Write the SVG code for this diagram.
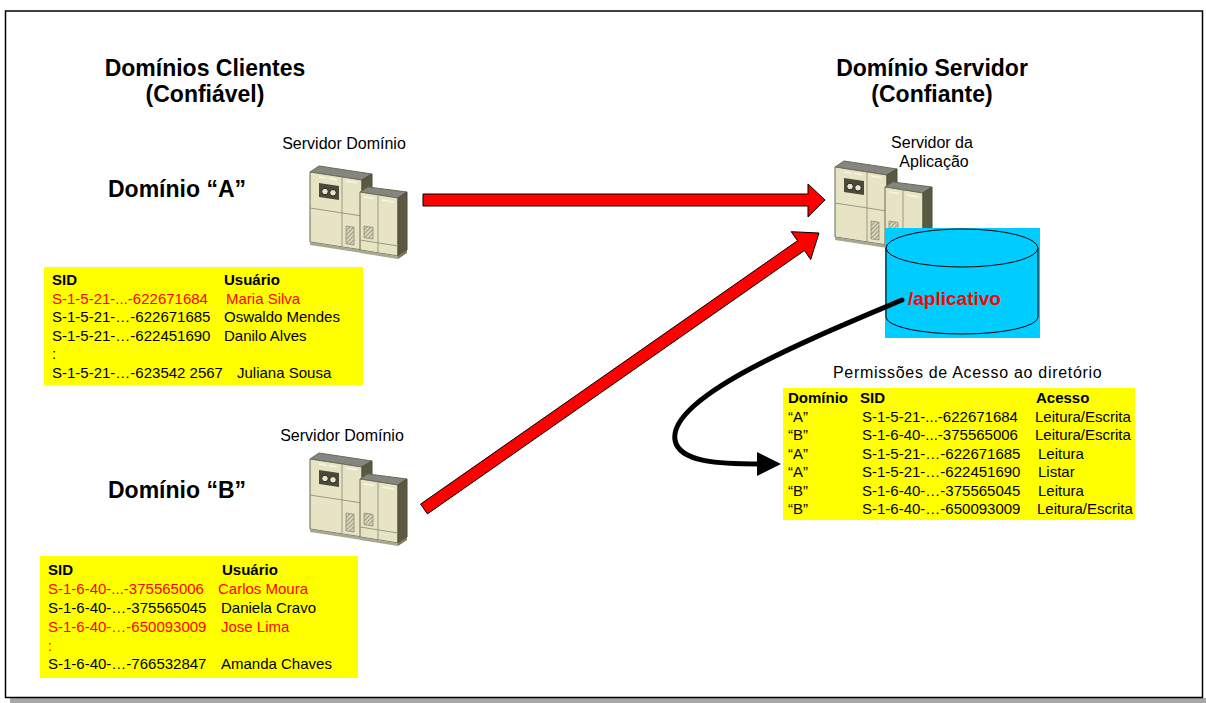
<svg xmlns="http://www.w3.org/2000/svg" xmlns:xlink="http://www.w3.org/1999/xlink" width="1206" height="703" viewBox="0 0 1206 703">
  <style>
    text { font-family: "Liberation Sans", Arial, sans-serif; fill: #000; }
    .h { font-size: 23px; font-weight: bold; }
    .lbl { font-size: 16px; }
    .tb { font-size: 15px; }
    .b { font-weight: bold; }
    .red { fill: #ff0000; }
    .ylw { fill: #ffff00; }
    .red-arrow { fill: #ff0000; stroke: #000; stroke-width: 1; stroke-linejoin: miter; }
    .front { fill: #e7e4c6; stroke: #6b6a52; stroke-width: 1; }
    .top { fill: #858582; stroke: #6b6a52; stroke-width: 1; }
    .side { fill: #5a5941; stroke: #4d4c38; stroke-width: 1; }
    .seam { stroke: #9a9880; stroke-width: 1; fill: none; }
    .hl { stroke: #f7f5e6; stroke-width: 1.5; fill: none; }
  </style>
  <defs>
    <pattern id="vent" width="3" height="3" patternUnits="userSpaceOnUse" patternTransform="rotate(45)">
      <rect width="3" height="3" fill="#d8d5bb"/>
      <line x1="0" y1="0" x2="0" y2="3" stroke="#77765e" stroke-width="1.2"/>
    </pattern>
    <!-- two-cabinet server icon -->
    <symbol id="server" viewBox="0 0 104 96" width="104" height="96" overflow="visible">
      <!-- tall cabinet -->
      <polygon class="top" points="4,8 13,2 66,10 56,16"/>
      <polygon class="front" points="4,8 56,16 56,86 4,78"/>
      <polygon class="side" points="56,16 66,10 66,80 56,86"/>
      <polygon fill="#a9a792" points="4,78 56,86 56,89 4,81"/>
      <polygon fill="#7a7962" points="56,86 66,80 66,83 56,89"/>
      <line class="seam" x1="36" y1="13" x2="36" y2="83"/>
      <line class="seam" x1="4" y1="44" x2="56" y2="52"/>
      <line class="hl" x1="13" y1="13" x2="20" y2="14"/>
      <line class="hl" x1="23" y1="14.5" x2="31" y2="15.7"/>
      <line class="hl" x1="40" y1="17" x2="51" y2="18.7"/>
      <polygon fill="#4a493a" points="13,19 33,22 33,36 13,33"/>
      <circle cx="19" cy="27.5" r="3.3" fill="#e9e6ca" stroke="#222" stroke-width="1"/>
      <circle cx="27" cy="28.8" r="3.3" fill="#e9e6ca" stroke="#222" stroke-width="1"/>
      <polygon fill="url(#vent)" stroke="#77765e" stroke-width="0.6" points="40,62 48,63.2 48,81 40,79.8"/>
      <!-- short cabinet -->
      <polygon class="top" points="54,28 62,23 101,28 92,34"/>
      <polygon class="front" points="54,28 92,34 92,92 54,86"/>
      <polygon class="side" points="92,34 101,28 101,86 92,92"/>
      <polygon fill="#a9a792" points="54,86 92,92 92,95 54,89"/>
      <polygon fill="#7a7962" points="92,92 101,86 101,89 92,95"/>
      <line class="seam" x1="72" y1="31" x2="72" y2="89"/>
      <line class="seam" x1="54" y1="76" x2="92" y2="82"/>
      <line class="hl" x1="58" y1="33" x2="68" y2="34.5"/>
      <line class="hl" x1="76" y1="36" x2="88" y2="38"/>
      <polygon fill="url(#vent)" stroke="#77765e" stroke-width="0.6" points="58,62 67,63.4 67,75 58,73.6"/>
    </symbol>
  </defs>

  <!-- page frame with drop shadow along the bottom -->
  <rect x="10" y="698" width="1196" height="5" fill="#a8a8a8"/>
  <rect x="5.5" y="11" width="1197" height="686.5" fill="#fff" stroke="#000" stroke-width="1.5"/>

  <!-- headings -->
  <g id="titles">
    <text class="h" x="205" y="76" text-anchor="middle">Domínios Clientes</text>
    <text class="h" x="205" y="102" text-anchor="middle">(Confiável)</text>
    <text class="h" x="932" y="76" text-anchor="middle">Domínio Servidor</text>
    <text class="h" x="932" y="102" text-anchor="middle">(Confiante)</text>
    <text class="h" x="108" y="197">Domínio “A”</text>
    <text class="h" x="108" y="498">Domínio “B”</text>
  </g>

  <!-- domain A server -->
  <g id="server-a">
    <text class="lbl" x="344" y="149" text-anchor="middle">Servidor Domínio</text>
    <use xlink:href="#server" href="#server" x="306" y="164"/>
  </g>

  <!-- domain B server -->
  <g id="server-b">
    <text class="lbl" x="342" y="441" text-anchor="middle">Servidor Domínio</text>
    <use xlink:href="#server" href="#server" x="306" y="451"/>
  </g>

  <!-- application server -->
  <g id="server-app">
    <text class="lbl" x="932" y="148" text-anchor="middle">Servidor da</text>
    <text class="lbl" x="934" y="167" text-anchor="middle">Aplicação</text>
    <use xlink:href="#server" href="#server" x="831" y="159"/>
  </g>

  <!-- shared directory -->
  <g id="directory">
    <rect x="885" y="228" width="155" height="110" fill="#00ccff"/>
    <path d="M886 248 L886 317 A76 17 0 0 0 1038 317 L1038 248" fill="#00ccff" stroke="#000" stroke-width="1"/>
    <ellipse cx="962" cy="248" rx="76" ry="19" fill="#00ccff" stroke="#000" stroke-width="1"/>
    <text x="908" y="305" font-size="19" font-weight="bold" class="red">/aplicativo</text>
  </g>

  <!-- domain A user table -->
  <g id="table-a" class="tb">
    <rect class="ylw" x="44" y="267" width="319" height="118"/>
    <text class="tb b" x="52" y="285">SID</text>
    <text class="tb b" x="224" y="285">Usuário</text>
    <text class="tb red" x="52" y="303.5">S-1-5-21-...-622671684</text>
    <text class="tb red" x="226" y="303.5">Maria Silva</text>
    <text class="tb" x="52" y="322">S-1-5-21-…-622671685</text>
    <text class="tb" x="224" y="322">Oswaldo Mendes</text>
    <text class="tb" x="52" y="340.5">S-1-5-21-…-622451690</text>
    <text class="tb" x="224" y="340.5">Danilo Alves</text>
    <text class="tb" x="52" y="359">:</text>
    <text class="tb" x="52" y="377.5">S-1-5-21-…-623542 2567</text>
    <text class="tb" x="237" y="377.5">Juliana Sousa</text>
  </g>

  <!-- domain B user table -->
  <g id="table-b" class="tb">
    <rect class="ylw" x="40" y="556" width="318" height="122"/>
    <text class="tb b" x="48" y="575">SID</text>
    <text class="tb b" x="222" y="575">Usuário</text>
    <text class="tb red" x="48" y="594">S-1-6-40-...-375565006</text>
    <text class="tb red" x="218" y="594">Carlos Moura</text>
    <text class="tb" x="48" y="613">S-1-6-40-…-375565045</text>
    <text class="tb" x="221" y="613">Daniela Cravo</text>
    <text class="tb red" x="48" y="632">S-1-6-40-…-650093009</text>
    <text class="tb red" x="221" y="632">Jose Lima</text>
    <text class="tb red" x="48" y="650.5">:</text>
    <text class="tb" x="48" y="669">S-1-6-40-…-766532847</text>
    <text class="tb" x="221" y="669">Amanda Chaves</text>
  </g>

  <!-- directory permission table -->
  <g id="permissions" class="tb">
    <text class="lbl" x="833" y="378" letter-spacing="0.7">Permissões de Acesso ao diretório</text>
    <rect class="ylw" x="783" y="388" width="352" height="132"/>
    <text class="tb b" x="788" y="403">Domínio</text>
    <text class="tb b" x="860" y="403">SID</text>
    <text class="tb b" x="1036" y="403">Acesso</text>

    <text class="tb" x="788" y="421.5">“A”</text>
    <text class="tb" x="862" y="421.5">S-1-5-21-...-622671684</text>
    <text class="tb" x="1035" y="421.5">Leitura/Escrita</text>

    <text class="tb" x="788" y="440">“B”</text>
    <text class="tb" x="862" y="440">S-1-6-40-...-375565006</text>
    <text class="tb" x="1035" y="440">Leitura/Escrita</text>

    <text class="tb" x="788" y="458.5">“A”</text>
    <text class="tb" x="862" y="458.5">S-1-5-21-…-622671685</text>
    <text class="tb" x="1038" y="458.5">Leitura</text>

    <text class="tb" x="788" y="477">“A”</text>
    <text class="tb" x="862" y="477">S-1-5-21-…-622451690</text>
    <text class="tb" x="1038" y="477">Listar</text>

    <text class="tb" x="788" y="495.5">“B”</text>
    <text class="tb" x="862" y="495.5">S-1-6-40-…-375565045</text>
    <text class="tb" x="1038" y="495.5">Leitura</text>

    <text class="tb" x="788" y="514">“B”</text>
    <text class="tb" x="862" y="514">S-1-6-40-…-650093009</text>
    <text class="tb" x="1037" y="514">Leitura/Escrita</text>
  </g>

  <!-- connectors -->
  <g id="connectors">
    <polygon class="red-arrow" points="423,194 808,194 808,184 825,200 808,217 808,206 423,206"/>
    <polygon class="red-arrow" points="420.6,504.1 797.5,240.7 791.2,231.7 819,233 810.7,259.5 804.4,250.5 427.4,513.9"/>
    <path d="M902 300 C820 335, 668 395, 675 440 C679 463, 722 464, 760 464" fill="none" stroke="#000" stroke-width="5" stroke-linecap="round"/>
    <polygon points="757,452 781,464 757,476" fill="#000"/>
  </g>
</svg>
